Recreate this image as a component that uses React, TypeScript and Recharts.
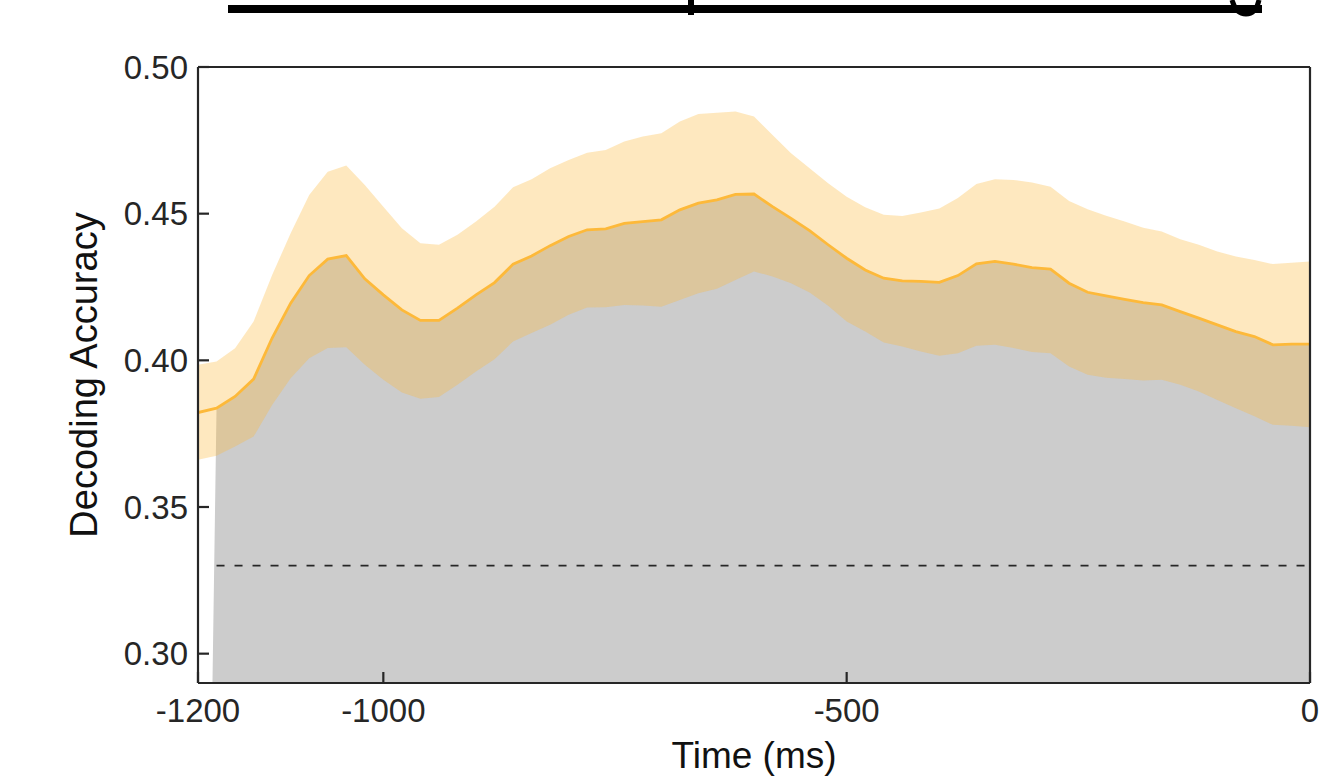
import React from 'react';
import { ComposedChart, Area, Line, XAxis, YAxis, ReferenceLine } from 'recharts';

const times: number[] = [
  -1200, -1180, -1160, -1140, -1120, -1100, -1080, -1060, -1040, -1020,
  -1000, -980, -960, -940, -920, -900, -880, -860, -840, -820,
  -800, -780, -760, -740, -720, -700, -680, -660, -640, -620,
  -600, -580, -560, -540, -520, -500, -480, -460, -440, -420,
  -400, -380, -360, -340, -320, -300, -280, -260, -240, -220,
  -200, -180, -160, -140, -120, -100, -80, -60, -40, -20, 0,
];

const meanAcc: number[] = [
  0.3822, 0.3837, 0.3877, 0.3936, 0.4076, 0.4195, 0.4289, 0.4345, 0.4357, 0.4278, 0.4223, 0.4172, 0.4136,
  0.4136, 0.4178, 0.4223, 0.4265, 0.4328, 0.4356, 0.4391, 0.4422, 0.4445, 0.4448, 0.4467, 0.4473,
  0.4479, 0.4513, 0.4536, 0.4547, 0.4566, 0.4567, 0.4524, 0.4484, 0.4442, 0.4394, 0.4348, 0.4308,
  0.4280, 0.4271, 0.4269, 0.4266, 0.4289, 0.4329, 0.4337, 0.4328, 0.4316, 0.4311, 0.4263, 0.4232,
  0.4220, 0.4208, 0.4197, 0.4189, 0.4166, 0.4144, 0.4121, 0.4098, 0.4081, 0.4053, 0.4055, 0.4055,
];

const upperCI: number[] = [
  0.3985, 0.3996, 0.4041, 0.4132, 0.4291, 0.4433, 0.4564, 0.4643, 0.4664, 0.4598, 0.4524, 0.4450, 0.4399,
  0.4394, 0.4428, 0.4473, 0.4524, 0.4590, 0.4617, 0.4655, 0.4683, 0.4708, 0.4717, 0.4746, 0.4763,
  0.4774, 0.4814, 0.4840, 0.4844, 0.4848, 0.4831, 0.4768, 0.4706, 0.4655, 0.4604, 0.4558, 0.4522,
  0.4496, 0.4492, 0.4504, 0.4518, 0.4553, 0.4601, 0.4617, 0.4615, 0.4606, 0.4592, 0.4543, 0.4515,
  0.4493, 0.4473, 0.4452, 0.4439, 0.4413, 0.4394, 0.4371, 0.4354, 0.4342, 0.4328, 0.4333, 0.4337,
];

const lowerCI: number[] = [
  0.3661, 0.3675, 0.3706, 0.3740, 0.3848, 0.3939, 0.4007, 0.4042, 0.4045, 0.3985, 0.3934, 0.3890, 0.3869,
  0.3875, 0.3917, 0.3962, 0.4004, 0.4064, 0.4093, 0.4121, 0.4155, 0.4180, 0.4181, 0.4189, 0.4187,
  0.4183, 0.4206, 0.4229, 0.4244, 0.4274, 0.4303, 0.4286, 0.4263, 0.4231, 0.4186, 0.4132, 0.4098,
  0.4061, 0.4047, 0.4030, 0.4016, 0.4024, 0.4050, 0.4053, 0.4042, 0.4028, 0.4024, 0.3979, 0.3951,
  0.3941, 0.3936, 0.3931, 0.3934, 0.3917, 0.3894, 0.3865, 0.3837, 0.3809, 0.3780, 0.3777, 0.3772,
];

// shaded significance patch: starts at first significant sample, drops to zero baseline
const patchStartTime = -1198;
const patchStartValue = 0;
const patchFirstIndex = 1;

const chanceLevel = 0.33;
const chanceStart = -1180;

const xTicks: number[] = [-1200, -1000, -500, 0];
const yTicks: number[] = [0.3, 0.35, 0.4, 0.45, 0.5];

const xLabel = 'Time (ms)';
const yLabel = 'Decoding Accuracy';

const rows = times.map((t, i) => ({ t, mean: meanAcc[i], band: [lowerCI[i], upperCI[i]] }));
const patchRows = [
  { t: patchStartTime, g: patchStartValue },
  ...times.slice(patchFirstIndex).map((t, i) => ({ t, g: meanAcc[i + patchFirstIndex] })),
];

const AXIS = '#262626';
const FONT = '"Liberation Sans", Arial, Helvetica, sans-serif';

export default function App() {
  return (
    <div style={{ position: 'absolute', left: 0, top: 0, width: 1327, height: 784, background: '#fff' }}>
      <svg width={1327} height={20} style={{ position: 'absolute', left: 0, top: 0 }}>
        <rect x={228} y={5} width={1034} height={8} fill="#000" />
        <rect x={688} y={0} width={6} height={15} fill="#000" />
        <path d="M1232,0 Q1236,14 1246,14 Q1256,14 1259,0" stroke="#000" strokeWidth={5} fill="none" />
      </svg>
      <div style={{ position: 'absolute', left: 0, top: 0 }}>
        <ComposedChart
          width={1327}
          height={784}
          data={rows}
          margin={{ top: 66, right: 16, bottom: 100, left: 197 }}
          style={{ fontFamily: FONT }}
        >
          <XAxis
            xAxisId="bottom"
            dataKey="t"
            type="number"
            domain={[-1200, 0]}
            ticks={xTicks}
            allowDataOverflow
            height={1}
            orientation="bottom"
            stroke={AXIS}
            strokeWidth={2.2}
            tickSize={-11}
            tickMargin={27}
            tick={{ fill: AXIS, fontSize: 33, fontFamily: FONT }}
            label={{
              content: (p: any) => {
                const vb = p.viewBox || {};
                return (
                  <text
                    x={vb.x + vb.width / 2}
                    y={768}
                    textAnchor="middle"
                    fontSize={37}
                    fill="#111"
                    fontFamily={FONT}
                  >
                    {xLabel}
                  </text>
                );
              },
            }}
          />
          <XAxis
            xAxisId="top"
            dataKey="t"
            type="number"
            domain={[-1200, 0]}
            ticks={xTicks}
            allowDataOverflow
            height={1}
            orientation="top"
            stroke={AXIS}
            strokeWidth={2.2}
            tickSize={-11}
            tick={false}
          />
          <YAxis
            yAxisId="left"
            type="number"
            domain={[0.29, 0.5]}
            ticks={yTicks}
            allowDataOverflow
            width={1}
            orientation="left"
            stroke={AXIS}
            strokeWidth={2.2}
            tickSize={-11}
            tickMargin={21}
            tickFormatter={(v: number) => v.toFixed(2)}
            tick={{ fill: AXIS, fontSize: 33, fontFamily: FONT }}
            label={{
              content: (p: any) => {
                const vb = p.viewBox || {};
                const cx = 97;
                const cy = vb.y + vb.height / 2;
                return (
                  <text
                    x={cx}
                    y={cy}
                    transform={`rotate(-90, ${cx}, ${cy})`}
                    textAnchor="middle"
                    fontSize={38}
                    fill="#111"
                    fontFamily={FONT}
                  >
                    {yLabel}
                  </text>
                );
              },
            }}
          />
          <YAxis
            yAxisId="right"
            type="number"
            domain={[0.29, 0.5]}
            ticks={yTicks}
            allowDataOverflow
            width={1}
            orientation="right"
            stroke={AXIS}
            strokeWidth={2.2}
            tickSize={-11}
            tick={false}
          />
          <Area
            xAxisId="bottom"
            yAxisId="left"
            data={patchRows}
            dataKey="g"
            type="linear"
            baseValue={0}
            fill="#CCCCCC"
            fillOpacity={1}
            stroke="none"
            isAnimationActive={false}
          />
          <Area
            xAxisId="bottom"
            yAxisId="left"
            dataKey="band"
            type="linear"
            fill="#FCBA3C"
            fillOpacity={0.33}
            stroke="none"
            isAnimationActive={false}
          />
          <ReferenceLine
            xAxisId="bottom"
            yAxisId="left"
            segment={[
              { x: chanceStart, y: chanceLevel },
              { x: 0, y: chanceLevel },
            ]}
            stroke="#262626"
            strokeWidth={1.8}
            strokeDasharray="8 10"
          />
          <Line
            xAxisId="bottom"
            yAxisId="left"
            dataKey="mean"
            type="linear"
            stroke="#FDB93A"
            strokeWidth={2.8}
            dot={false}
            isAnimationActive={false}
          />
        </ComposedChart>
      </div>
    </div>
  );
}
